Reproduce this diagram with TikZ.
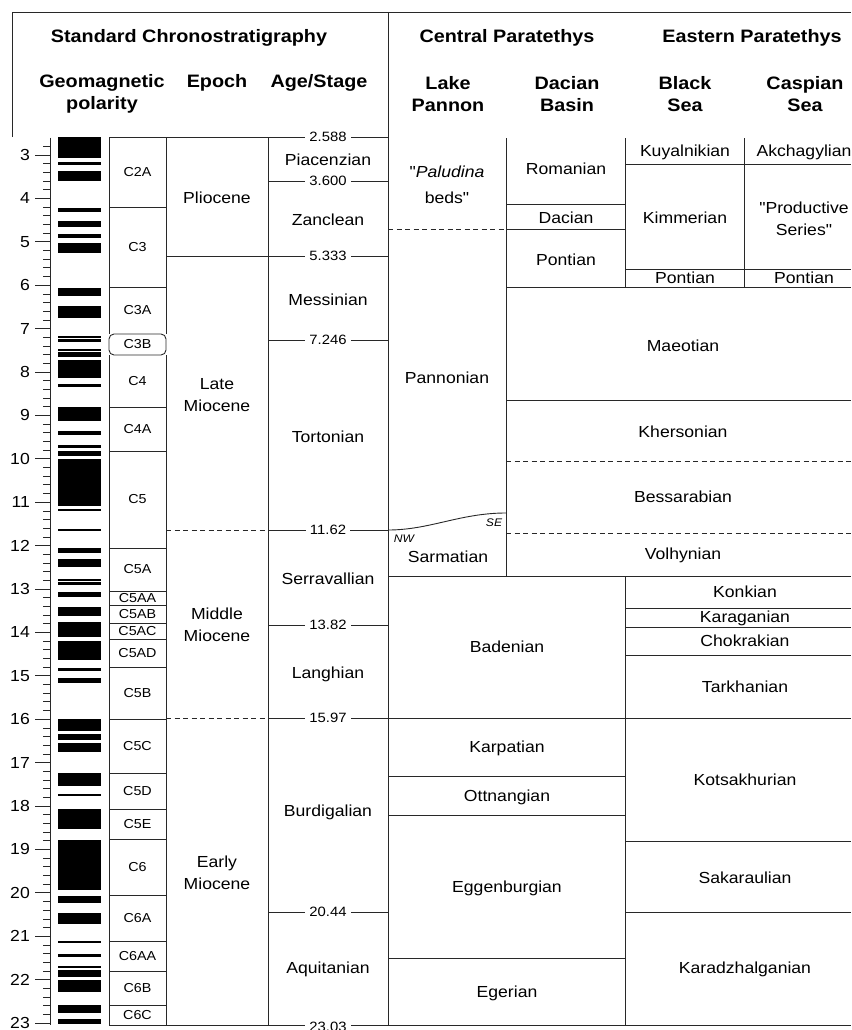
\documentclass[tikz,border=0pt]{standalone}
\usepackage{fontspec}
\setmainfont[FakeStretch=1.1]{Liberation Sans}
\newfontfamily\plainfont[FakeStretch=1.1]{Liberation Sans}
\definecolor{ruleline}{RGB}{40,40,40}
\newcommand{\dq}{{\plainfont\char34}}

\begin{document}
\begin{tikzpicture}[x=1pt,y=-1pt,
    rule/.style={draw=ruleline, line width=0.9pt},
    dashrule/.style={rule, dash pattern=on 5pt off 3.5pt},
    colhead/.style={font=\fontsize{18}{22}\selectfont\bfseries, align=center, inner sep=0pt},
    unit/.style={font=\fontsize{16}{22}\selectfont, align=center, inner sep=0pt},
    chron/.style={font=\fontsize{13}{14}\selectfont, inner sep=0pt},
    agenum/.style={font=\fontsize{13.5}{15}\selectfont, fill=white, inner xsep=4pt, inner ysep=1pt},
    axnum/.style={font=\fontsize{16}{18}\selectfont, anchor=east, inner sep=0pt},
    dirlabel/.style={font=\fontsize{11}{12}\selectfont\itshape, inner sep=0pt}]
  \useasboundingbox (0,0) rectangle (851,1030);

  % header
  \draw[rule] (12,137) -- (12,12) -- (851,12);
  \draw[rule] (388,12) -- (388,1025);
  \node[colhead] (stdhead) at (189,38) {Standard Chronostratigraphy};
  \node[colhead] (cphead) at (507,38) {Central Paratethys};
  \node[colhead] (ephead) at (752,38) {Eastern Paratethys};
  \node[colhead] (polhead) at (102,94) {Geomagnetic\\polarity};
  \node[colhead] (epohead) at (217,83) {Epoch};
  \node[colhead] (agehead) at (319,83) {Age/Stage};
  \node[colhead] (pannhead) at (448,94) {Lake\\Pannon};
  \node[colhead] (dachead) at (567,94) {Dacian\\Basin};
  \node[colhead] (bshead) at (685,94) {Black\\Sea};
  \node[colhead] (cshead) at (805,94) {Caspian\\Sea};

  % age axis and polarity (y in Ma)
  \begin{scope}[shift={(0,24.8)}, y=-43.4pt]
    \draw[rule] (50,2.6) -- (50,23.05);
    \foreach \i in {14,...,115}
      \draw[rule, line width=0.7pt] (43,\i/5) -- (50,\i/5);
    \foreach \a in {3,...,23} {
      \draw[rule] (35,\a) -- (50,\a);
      \node[axnum] (ax\a) at (30,\a) {\a};
    }
    \foreach \t/\b in {2.588/3.06, 3.15/3.22, 3.37/3.61, 4.21/4.31, 4.52/4.65,
        4.83/4.92, 5.02/5.25, 6.07/6.26, 6.48/6.76, 7.17/7.21, 7.25/7.32,
        7.47/7.51, 7.55/7.66, 7.72/8.14, 8.28/8.34, 8.80/9.13, 9.36/9.45,
        9.68/9.74, 9.82/9.94, 10.0/11.09, 11.16/11.20, 11.62/11.67,
        12.06/12.18, 12.31/12.49, 12.78/12.82, 12.85/12.90, 13.06/13.18,
        13.41/13.62, 13.76/14.10, 14.19/14.64, 14.81/14.89, 15.04/15.17,
        16.0/16.27, 16.33/16.47, 16.55/16.75, 17.25/17.53, 17.72/17.76,
        18.08/18.54, 18.78/19.93, 20.07/20.23, 20.46/20.72, 21.10/21.16,
        21.42/21.49, 21.69/21.73, 21.78/21.95, 22.01/22.28, 22.59/22.76,
        22.91/23.03}
      \fill (58,\t) rectangle (101,\b);
  \end{scope}

  % chron column
  \draw[rule] (109,137) -- (109,334) (109,355) -- (109,1025);
  \draw[rule] (166,137) -- (166,334) (166,355) -- (166,1025);
  \draw[rule, rounded corners=5pt] (109,334) rectangle (166,355);
  \foreach \y in {207,287,407,451,548,591,605,623,639,667,719,773,809,839,895,941,971,1005}
    \draw[rule] (109,\y) -- (166,\y);
  \foreach \n/\y in {C2A/172, C3/247, C3A/310, C3B/344.5, C4/381, C4A/429, C5/499.5,
      C5A/569.5, C5AA/598, C5AB/614, C5AC/631, C5AD/653, C5B/693, C5C/746,
      C5D/791, C5E/824, C6/867, C6A/918, C6AA/956, C6B/988, C6C/1015}
    \node[chron] (chron\n) at (137.5,\y) {\n};

  % epoch and stage columns
  \draw[rule] (268,137) -- (268,1025);
  \draw[rule] (109,137) -- (388,137);
  \draw[rule] (268,181) -- (388,181);
  \draw[rule] (166,256) -- (388,256);
  \draw[rule] (268,340) -- (388,340);
  \draw[dashrule] (166,530) -- (268,530);
  \draw[rule] (268,530) -- (388,530);
  \draw[rule] (268,625) -- (388,625);
  \draw[dashrule] (166,718) -- (268,718);
  \draw[rule] (268,718) -- (851,718);
  \draw[rule] (268,912) -- (388,912);
  \draw[rule] (109,1025) -- (851,1025);

  \node[unit] (pliocene) at (217,198) {Pliocene};
  \node[unit] (latemio) at (217,395) {Late\\Miocene};
  \node[unit] (midmio) at (217,625) {Middle\\Miocene};
  \node[unit] (earlymio) at (217,873) {Early\\Miocene};

  \node[unit] (piacenzian) at (328,160) {Piacenzian};
  \node[unit] (zanclean) at (328,220) {Zanclean};
  \node[unit] (messinian) at (328,300) {Messinian};
  \node[unit] (tortonian) at (328,437) {Tortonian};
  \node[unit] (serravallian) at (328,579) {Serravallian};
  \node[unit] (langhian) at (328,674) {Langhian};
  \node[unit] (burdigalian) at (328,812) {Burdigalian};
  \node[unit] (aquitanian) at (328,969) {Aquitanian};

  \node[agenum] (b2588) at (328,137) {2.588};
  \node[agenum] (b3600) at (328,181) {3.600};
  \node[agenum] (b5333) at (328,256) {5.333};
  \node[agenum] (b7246) at (328,340) {7.246};
  \node[agenum] (b1162) at (328,530) {11.62};
  \node[agenum] (b1382) at (328,625) {13.82};
  \node[agenum] (b1597) at (328,718) {15.97};
  \node[agenum] (b2044) at (328,912) {20.44};
  \node[agenum] (b2303) at (328,1027) {23.03};

  % Central Paratethys
  \draw[rule] (506,138) -- (506,576);
  \draw[dashrule] (388,229.3) -- (506,229.3);
  \draw[rule] (388,530) .. controls (430,530) and (460,513) .. (506,513);
  \draw[rule] (506,204) -- (625,204);
  \draw[rule] (506,229.3) -- (625,229.3);
  \draw[rule] (388,576) -- (851,576);
  \draw[rule] (388,776) -- (625,776);
  \draw[rule] (388,815) -- (625,815);
  \draw[rule] (388,958) -- (625,958);

  \node[unit] (paludina) at (447,185) {\dq\textit{Paludina}\\[4pt]beds\dq};
  \node[unit] (pannonian) at (447,378) {Pannonian};
  \node[unit] (sarmatian) at (448,557) {Sarmatian};
  \node[dirlabel] (nw) at (404,539) {NW};
  \node[dirlabel] (se) at (494,523) {SE};
  \node[unit] (romanian) at (566,169) {Romanian};
  \node[unit] (dacian) at (566,218) {Dacian};
  \node[unit] (pontiandac) at (566,260) {Pontian};
  \node[unit] (badenian) at (507,647) {Badenian};
  \node[unit] (karpatian) at (507,748) {Karpatian};
  \node[unit] (ottnangian) at (507,797) {Ottnangian};
  \node[unit] (eggenburgian) at (507,888) {Eggenburgian};
  \node[unit] (egerian) at (507,993) {Egerian};

  % Eastern Paratethys
  \draw[rule] (625,138) -- (625,287) (625,576) -- (625,1025);
  \draw[rule] (744,138) -- (744,287);
  \draw[rule] (625,164.3) -- (851,164.3);
  \draw[rule] (625,269.3) -- (851,269.3);
  \draw[rule] (506,287) -- (851,287);
  \draw[rule] (506,400) -- (851,400);
  \draw[dashrule] (506,461) -- (851,461);
  \draw[dashrule] (506,533) -- (851,533);
  \draw[rule] (625,608.3) -- (851,608.3);
  \draw[rule] (625,627.3) -- (851,627.3);
  \draw[rule] (625,655) -- (851,655);
  \draw[rule] (625,841.7) -- (851,841.7);
  \draw[rule] (625,912) -- (851,912);

  \node[unit] (kuyalnikian) at (685,152) {Kuyalnikian};
  \node[unit] (kimmerian) at (685,218) {Kimmerian};
  \node[unit] (pontianbs) at (685,278) {Pontian};
  \node[unit] (akchagylian) at (804,152) {Akchagylian};
  \node[unit] (productive) at (804,218.5) {\dq Productive\\Series\dq};
  \node[unit] (pontiancs) at (804,278) {Pontian};
  \node[unit] (maeotian) at (683,346) {Maeotian};
  \node[unit] (khersonian) at (683,432) {Khersonian};
  \node[unit] (bessarabian) at (683,497) {Bessarabian};
  \node[unit] (volhynian) at (683,555) {Volhynian};
  \node[unit] (konkian) at (745,592) {Konkian};
  \node[unit] (karaganian) at (745,618) {Karaganian};
  \node[unit] (chokrakian) at (745,641) {Chokrakian};
  \node[unit] (tarkhanian) at (745,687) {Tarkhanian};
  \node[unit] (kotsakhurian) at (745,780) {Kotsakhurian};
  \node[unit] (sakaraulian) at (745,878) {Sakaraulian};
  \node[unit] (karadzhalganian) at (745,969) {Karadzhalganian};
\end{tikzpicture}
\end{document}
